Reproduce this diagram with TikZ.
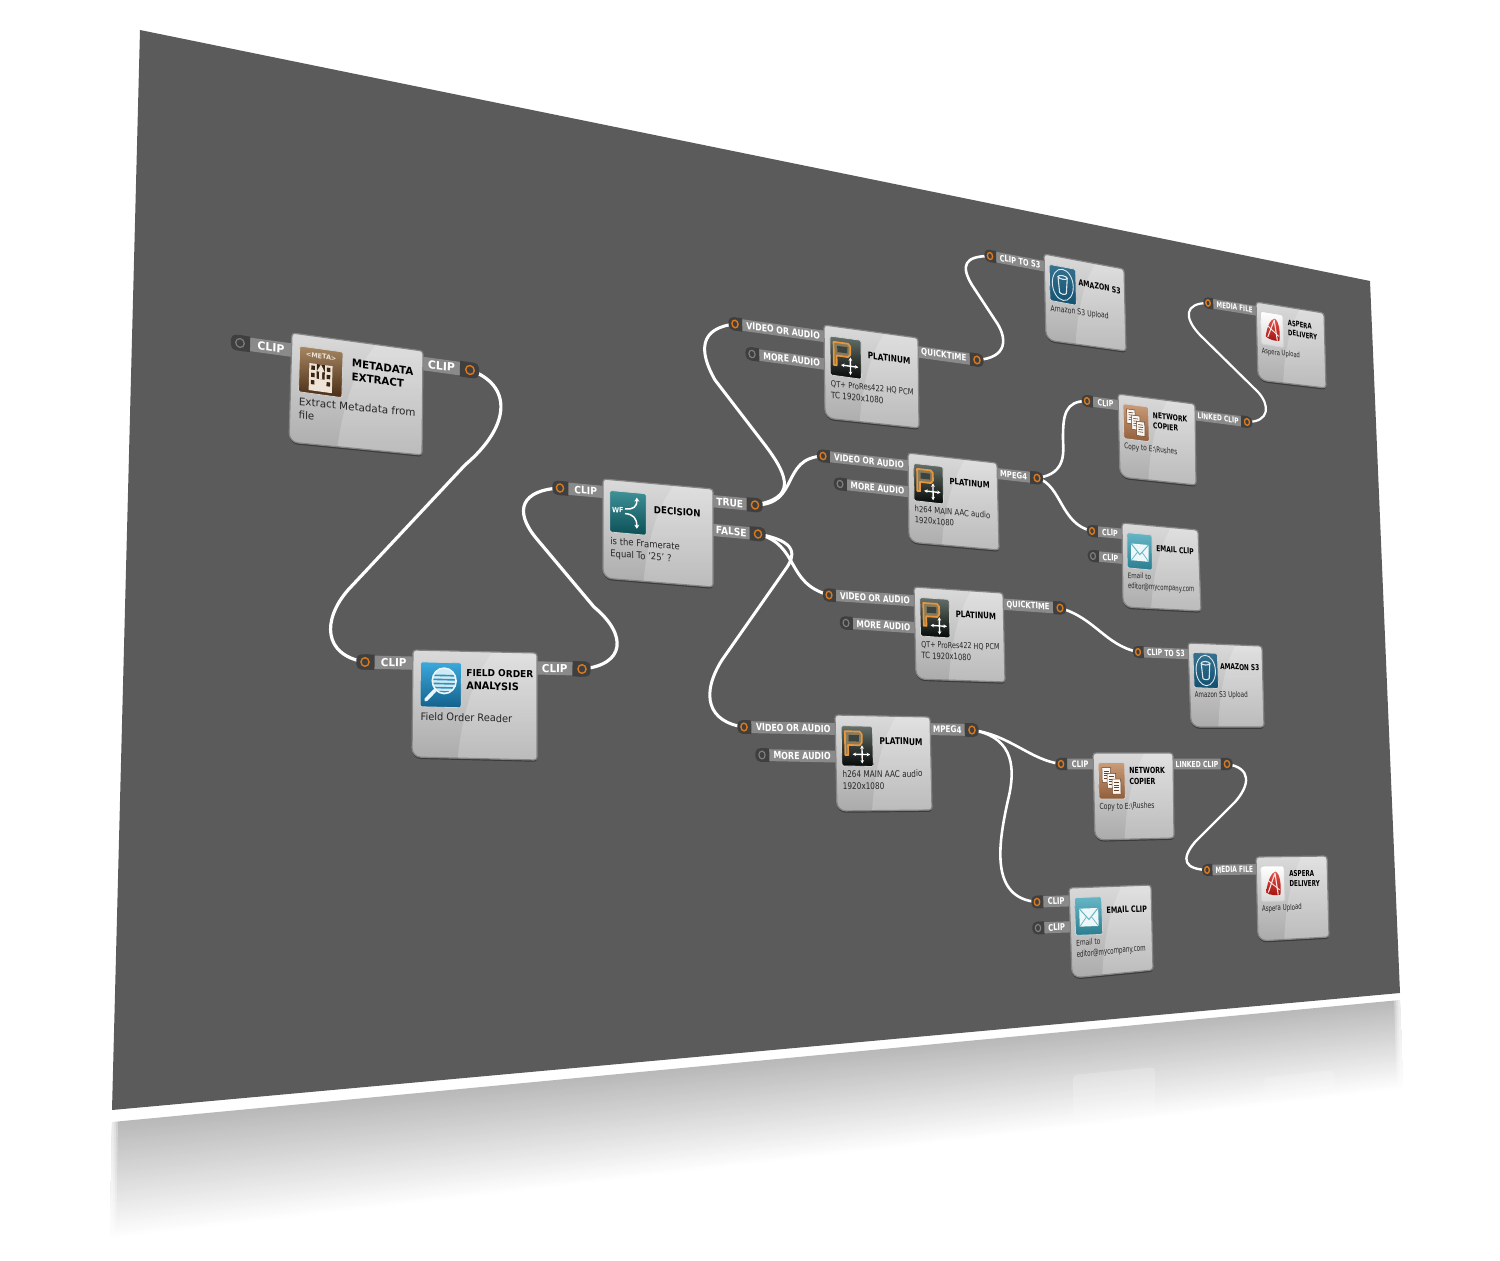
\documentclass[tikz,border=0pt]{standalone}
\usepackage{graphicx}
\usepackage{fontspec}
\setmainfont{DejaVu Sans}
\usetikzlibrary{arrows.meta}
\pgfdeclarelayer{back}
\pgfdeclarelayer{wires}
\pgfdeclarelayer{ports}
\pgfsetlayers{back,wires,ports,main}
\definecolor{plane}{HTML}{5A5B5A}
\definecolor{stripc}{HTML}{8A8A8A}
\definecolor{pillc}{HTML}{3F3F3F}
\definecolor{ringon}{HTML}{D9791E}
\definecolor{ringoff}{HTML}{7E7E7E}
\definecolor{pantop}{HTML}{DADADA}
\definecolor{panbot}{HTML}{ABABAB}
\definecolor{panedge}{HTML}{858585}
\definecolor{metatop}{HTML}{A68763}
\definecolor{metabot}{HTML}{4A2C16}
\definecolor{metaw}{HTML}{EDE3D6}
\definecolor{plattop}{HTML}{66716B}
\definecolor{platbot}{HTML}{050907}
\definecolor{plator}{HTML}{E8963C}
\definecolor{wftop}{HTML}{3F9198}
\definecolor{wfbot}{HTML}{0C4F56}
\definecolor{fotop}{HTML}{3BA9DC}
\definecolor{fobot}{HTML}{14618C}
\definecolor{sthree}{HTML}{14597C}
\definecolor{aspr}{HTML}{E2524A}
\definecolor{aspb}{HTML}{A3140F}
\definecolor{nettop}{HTML}{CB9C78}
\definecolor{netbot}{HTML}{915E3A}
\definecolor{mailtop}{HTML}{66B6C6}
\definecolor{mailbot}{HTML}{2B7D8F}
\tikzset{
  wftitle/.style={anchor=west,align=left,inner sep=0pt,text=black,transform shape,
    font=\fontsize{10.2}{13}\selectfont\bfseries},
  wfdesc/.style={anchor=north west,align=left,inner sep=0pt,text=black!85,transform shape,
    font=\fontsize{10}{13}\selectfont},
  wflabel/.style={inner sep=0pt,text=white,font=\fontsize{10.8}{13}\selectfont\bfseries},
  wfon/.style={circle,draw=ringon,line width=1.4pt,inner sep=0pt,minimum size=8.5pt},
  wfoff/.style={circle,draw=ringoff,line width=1.2pt,inner sep=0pt,minimum size=8.5pt},
  wfstrip/.style={fill=stripc},
  wfpill/.style={fill=pillc},
  wfwire/.style={draw=white,line cap=round,line join=round,line width=#1},
  wfwire/.default=2.4pt
}
\newcommand\wfTX{60}
% frame of one panel: name, TL, TR, BR, BL (pixels)
\newcommand\wfframe[9]{%
  \def\wfN{#1}\def\wfX{#2}\def\wfY{#3}\def\wfXR{#4}%
  \pgfmathsetmacro\wfA{(#4-#2)/130}%
  \pgfmathsetmacro\wfB{-(#5-#3)/130}%
  \pgfmathsetmacro\wfC{-(#8-#2)/105}%
  \pgfmathsetmacro\wfD{(#9-#3)/105}%
  \pgfmathsetmacro\wfAb{(#6-#8)/130}%
  \pgfmathsetmacro\wfBb{-(#7-#9)/130}%
  \coordinate (#1-tl) at (#2,#3);\coordinate (#1-tr) at (#4,#5);
  \coordinate (#1-br) at (#6,#7);\coordinate (#1-bl) at (#8,#9);}
\newcommand\wfshape{(\wfN-tl) [rounded corners=3pt] -- (\wfN-tr) -- (\wfN-br) [rounded corners=9pt] -- (\wfN-bl) [rounded corners=3pt] -- cycle}
% icon macro, title, description
\newcommand\wfbody[3]{%
  \fill[black,opacity=.35] ([yshift=-1.8pt]\wfN-tl) [rounded corners=3pt] -- ([yshift=-1.8pt]\wfN-tr) -- ([yshift=-1.8pt]\wfN-br) [rounded corners=9pt] -- ([yshift=-1.8pt]\wfN-bl) [rounded corners=3pt] -- cycle;
  \shade[top color=pantop,bottom color=panbot] \wfshape;
  \begin{scope}
    \clip \wfshape;
    \begin{scope}[cm={\wfA,\wfB,\wfC,\wfD,(\wfX,\wfY)}]
      \fill[white,opacity=.2] (88,-5) .. controls (70,15) and (52,50) .. (47,115) -- (140,115) -- (140,-5) -- cycle;
    \end{scope}
  \end{scope}
  \draw[panedge,line width=1.2pt] \wfshape;
  \begin{scope}[cm={\wfA,\wfB,\wfC,\wfD,(\wfX,\wfY)}]
    \begin{scope}[shift={(8,11.5)}]#1\end{scope}
    \node[wftitle] (\wfN-title) at (\wfTX,27.5) {#2};
  \end{scope}
  \begin{scope}[cm={\wfAb,\wfBb,\wfC,\wfD,(\wfX,\wfY)}]
    \node[wfdesc] (\wfN-desc) at (8.5,60.5) {\rule{0pt}{8pt}#3};
  \end{scope}}
% ring name, x, y, sign, length, label, ring style
\newcommand\wfport[7]{%
  \begin{pgfonlayer}{ports}
  \begin{scope}[cm={\wfA,\wfB,\wfC,\wfD,(#2,#3)}]
    \fill[wfstrip] ({#4*9},-6.5) rectangle ({#4*(#5+3)},6.5);
    \fill[wfpill,rounded corners=5pt] ({#4*(-9)},-7.5) rectangle ({#4*8},7.5);
    \fill[wfpill] (0,-7.5) rectangle ({#4*10},7.5);
    \node[#7,transform shape] (#1) at (0,0) {};
    \pgfmathsetmacro\wfM{#4*(10+#5)/2}
    \node[wflabel,transform shape] (#1-label) at (\wfM,0) {#6};
  \end{scope}
  \end{pgfonlayer}}
\newcommand\wfin[5]{\pgfmathsetmacro\wfL{(\wfX-#2)/\wfA}\wfport{#1}{#2}{#3}{1}{\wfL}{#4}{#5}}
\newcommand\wfout[4]{\pgfmathsetmacro\wfL{(#2-\wfXR)/\wfA}\wfport{#1}{#2}{#3}{-1}{\wfL}{#4}{wfon}}
% icons, local box 43 x 44
\newcommand\iconbox[2]{\shade[top color=#1,bottom color=#2,draw=white!82!black,line width=.8pt,rounded corners=1.5pt] (0,0) rectangle (43,44);}
\newcommand\iconmeta{\iconbox{metatop}{metabot}
  \node[inner sep=0pt,text=metaw,transform shape,font=\fontsize{6.4}{7}\selectfont\bfseries] (\wfN-icon) at (21.5,7) {<META>};
  \fill[metaw] (10,15) rectangle (33,41);
  \foreach \q in {17,24,31}{\fill[metabot!80!black] (12,\q) rectangle (15.5,{\q+4});\fill[metabot!80!black] (27.5,\q) rectangle (31,{\q+4});}
  \fill[metabot!80!black] (17.5,15) rectangle (25.5,29);
  \fill[metaw] (20,21) rectangle (23,29);
  \fill[metaw] (17.5,22) -- (21.5,15) -- (25.5,22) -- cycle;}
\newcommand\iconplat{\iconbox{plattop}{platbot}
  \draw[plator,line width=1.7pt,line join=round,fill=plator!25!plattop] (5,32) -- (5,6) -- (25,6) -- (28,9) -- (28,18) -- (25,21) -- (9,21) -- (9,32) -- cycle;
  \fill[plattop!60!black] (10,10) rectangle (24,17);
  \draw[white,line width=1.4pt,{Stealth[length=3.5pt,width=3.6pt]}-{Stealth[length=3.5pt,width=3.6pt]}] (15,31) -- (39,31);
  \draw[white,line width=1.4pt,{Stealth[length=3.5pt,width=3.6pt]}-{Stealth[length=3.5pt,width=3.6pt]}] (28,21) -- (28,41);}
\newcommand\iconwf{\iconbox{wftop}{wfbot}
  \node[inner sep=0pt,text=white,transform shape,font=\fontsize{7.6}{8}\selectfont\bfseries] (\wfN-icon) at (9.5,20) {WF};
  \draw[white,line width=1.5pt,-{Stealth[length=4pt,width=5pt]}] (18,18) .. controls (28,18) and (32,15) .. (32,5);
  \draw[white,line width=1.5pt,-{Stealth[length=4pt,width=5pt]}] (18,23) .. controls (28,23) and (32,27) .. (32,38);}
\newcommand\iconfield{\iconbox{fotop}{fobot}
  \begin{scope}
    \clip (25,18) circle (12.5);
    \fill[white!75!fotop] (10,4) rectangle (40,32);
    \foreach \q in {12,16,20,24,28}{\fill[fotop!85!black] (10,\q) rectangle (40,{\q+1.6});}
  \end{scope}
  \draw[white!90!fotop,line width=1.6pt] (25,18) circle (12.5);
  \draw[white!90!fotop,line width=3.6pt,line cap=round] (15.5,27.5) -- (6,37);}
\newcommand\iconsthree{\iconbox{sthree!85!white}{sthree!90!black}
  \draw[white!85!sthree,line width=.9pt] (21.5,22) ellipse (17 and 19);
  \draw[white!85!sthree,line width=1.1pt,line join=round] (14,13) -- (16,32) .. controls (18,34) and (25,34) .. (27,32) -- (29,13);
  \draw[white!85!sthree,line width=1.1pt] (21.5,13) ellipse (7.5 and 2.2);}
\newcommand\iconasp{\iconbox{white}{white!85!black}
  \shade[top color=aspr,bottom color=aspb] (9,33) .. controls (12,18) and (20,8) .. (27,7) .. controls (36,10) and (37,25) .. (35,36) .. controls (28,37) and (16,37) .. (9,33) -- cycle;
  \draw[white!85!aspr,line width=1.1pt,line join=round] (13,33) -- (26,9) -- (31,36);
  \draw[white!85!aspr,line width=.9pt] (13,18) -- (34,30);}
\newcommand\wfpage[2]{\fill[white!92!nettop,draw=netbot!70!black,line width=.5pt] (#1,#2) rectangle ({#1+14},{#2+18});
  \foreach \q in {4,7,10,13}{\draw[netbot!70!black,line width=.6pt] ({#1+3},{#2+\q}) -- ({#1+11},{#2+\q});}}
\newcommand\iconnet{\iconbox{nettop}{netbot}\wfpage{6}{6}\wfpage{14}{13}\wfpage{22}{20}}
\newcommand\iconmail{\iconbox{mailtop}{mailbot}
  \fill[white!88!mailtop] (7,13) rectangle (37,34);
  \draw[mailtop,line width=1pt] (7,13) -- (22,26) -- (37,13);
  \draw[mailtop,line width=.7pt] (7,34) -- (18,23);
  \draw[mailtop,line width=.7pt] (37,34) -- (26,23);}
\newcommand\dsmall{\fontsize{9.4}{13}\selectfont}
\newcommand\lsmall{\fontsize{10}{13}\selectfont}
\newcommand\mailaddr{\scalebox{.89}[1]{editor@mycompany.com}}
\begin{document}
\begin{tikzpicture}[x=1pt,y=-1pt]
\useasboundingbox (0,0) rectangle (1500,1261);
\begin{pgfonlayer}{back}
  \fill[white] (0,0) rectangle (1500,1261);
  \fill[plane] (140,30) -- (1370,281) -- (1400,993) -- (112,1110) -- cycle;
  % reflection: bands between the top edge and the line where it has faded out
  \foreach \i in {0,...,59}{
    \pgfmathsetmacro\tt{\i/60}
    \pgfmathsetmacro\cc{28*(1-(\i+1)/60)}
    \pgfmathsetmacro\xl{112-2*\tt}
    \pgfmathsetmacro\yl{1122+118*\tt}
    \pgfmathsetmacro\xr{1400+3*\tt}
    \pgfmathsetmacro\yr{1000+90*\tt}
    \fill[black!\cc] (\xl,\yl) -- (\xr,\yr) -- (1403,1092) -- (110,1242) -- cycle;
  }
  \fill[white] (100,1239.5) -- (1410,1089) -- (1410,1110) -- (100,1260) -- cycle;
  \fill[white,opacity=.2,rounded corners=4pt] (1073,1075) -- (1155,1067) -- (1155,1112) -- (1073,1120) -- cycle;
  \fill[white,opacity=.18,rounded corners=4pt] (1263,1078) -- (1333,1070) -- (1335,1088) -- (1265,1096) -- cycle;
  \fill[white,opacity=.35] (111,1121) -- (114,1121) -- (112,1245) -- (109,1245) -- cycle;
  \fill[white,opacity=.35] (111,1121) -- (116,1121) -- (114,1245) -- (109,1245) -- cycle;
  \fill[white,opacity=.3] (111,1121) -- (118,1121) -- (116,1245) -- (109,1245) -- cycle;
  \fill[white,opacity=.35] (1398,998) -- (1402,998) -- (1405,1095) -- (1401,1095) -- cycle;
  \fill[white,opacity=.35] (1396,998) -- (1402,998) -- (1405,1095) -- (1399,1095) -- cycle;
  \fill[white,opacity=.3] (1394,998) -- (1402,998) -- (1405,1095) -- (1397,1095) -- cycle;
\end{pgfonlayer}

% METADATA EXTRACT
\wfframe{md}{292}{333}{423}{351}{422}{455}{289}{442}
\wfin{md-i}{240}{343}{CLIP}{wfoff}
\wfout{md-o}{470}{370}{CLIP}
\wfbody{\iconmeta}{METADATA\\EXTRACT}{\fontsize{10.1}{13}\selectfont Extract Metadata from\\file}

% FIELD ORDER ANALYSIS
\wfframe{fo}{413}{650}{537}{653}{537}{760}{412}{757}
\wfin{fo-i}{365}{662}{CLIP}{wfon}
\wfout{fo-o}{582}{669}{CLIP}
\renewcommand\wfTX{56}
\wfbody{\iconfield}{\fontsize{9.4}{13}\selectfont FIELD ORDER\\ANALYSIS}{\fontsize{10.2}{13}\selectfont Field Order Reader}
\renewcommand\wfTX{60}

% DECISION
\wfframe{de}{603}{479}{713}{489}{713}{587}{603}{578}
\wfin{de-i}{560}{488}{CLIP}{wfon}
\wfout{de-t}{755}{505}{TRUE}
\wfout{de-f}{758}{534}{FALSE}
\wfbody{\iconwf}{DECISION}{is the Framerate\\Equal To \char39 25\char39\ ?}

% PLATINUM 1
\wfframe{pa}{824}{325}{918}{338}{919}{428}{825}{418}
\wfin{pa-v}{735}{324}{VIDEO OR AUDIO}{wfon}
\wfin{pa-m}{752}{354}{MORE AUDIO}{wfoff}
\wfout{pa-o}{977}{360}{\lsmall QUICKTIME}
\wfbody{\iconplat}{PLATINUM}{\dsmall QT+ ProRes422 HQ PCM\\TC 1920x1080}

% PLATINUM 2
\wfframe{pb}{908}{453}{997}{463}{999}{550}{909}{542}
\wfin{pb-v}{823}{456}{VIDEO OR AUDIO}{wfon}
\wfin{pb-m}{840}{484}{MORE AUDIO}{wfoff}
\wfout{pb-o}{1037}{478}{\lsmall MPEG4}
\wfbody{\iconplat}{PLATINUM}{h264 MAIN AAC audio\\1920x1080}

% PLATINUM 3
\wfframe{pc}{914}{587}{1003}{593}{1005}{682}{916}{679}
\wfin{pc-v}{829}{595}{VIDEO OR AUDIO}{wfon}
\wfin{pc-m}{846}{623}{MORE AUDIO}{wfoff}
\wfout{pc-o}{1060}{608}{\lsmall QUICKTIME}
\wfbody{\iconplat}{PLATINUM}{\dsmall QT+ ProRes422 HQ PCM\\TC 1920x1080}

% PLATINUM 4
\wfframe{pd}{835}{715}{930}{717}{932}{810}{837}{811}
\wfin{pd-v}{744}{727}{VIDEO OR AUDIO}{wfon}
\wfin{pd-m}{762}{755}{MORE AUDIO}{wfoff}
\wfout{pd-o}{972}{730}{\lsmall MPEG4}
\wfbody{\iconplat}{PLATINUM}{h264 MAIN AAC audio\\1920x1080}

\renewcommand\wfTX{55}
% AMAZON S3 1
\wfframe{sa}{1044}{254}{1124}{269}{1126}{351}{1046}{340}
\wfin{sa-i}{990}{256}{CLIP TO S3}{wfon}
\wfbody{\iconsthree}{AMAZON S3}{Amazon S3 Upload}

% AMAZON S3 2
\wfframe{sb}{1188}{643}{1262}{646}{1264}{727}{1191}{727}
\wfin{sb-i}{1138}{652}{CLIP TO S3}{wfon}
\wfbody{\iconsthree}{AMAZON S3}{Amazon S3 Upload}
\renewcommand\wfTX{60}

% ASPERA 1
\wfframe{aa}{1256}{302}{1324}{313}{1326}{388}{1258}{380}
\wfin{aa-i}{1208}{303}{MEDIA FILE}{wfon}
\wfbody{\iconasp}{ASPERA\\DELIVERY}{Aspera Upload}

% ASPERA 2
\wfframe{ab}{1256}{857}{1327}{856}{1329}{937}{1258}{941}
\wfin{ab-i}{1207}{870}{MEDIA FILE}{wfon}
\wfbody{\iconasp}{ASPERA\\DELIVERY}{Aspera Upload}

\renewcommand\wfTX{58}
% NETWORK COPIER 1
\wfframe{na}{1118}{394}{1195}{404}{1196}{485}{1120}{477}
\wfin{na-i}{1087}{401}{CLIP}{wfon}
\wfout{na-o}{1247}{422}{\lsmall LINKED CLIP}
\wfbody{\iconnet}{NETWORK\\COPIER}{Copy to E:\textbackslash Rushes}

% NETWORK COPIER 2
\wfframe{nb}{1093}{753}{1173}{753}{1174}{838}{1095}{840}
\wfin{nb-i}{1061}{764}{CLIP}{wfon}
\wfout{nb-o}{1227}{764}{\lsmall LINKED CLIP}
\wfbody{\iconnet}{NETWORK\\COPIER}{Copy to E:\textbackslash Rushes}

% EMAIL 1
\wfframe{ea}{1122}{523}{1198}{530}{1201}{611}{1123}{607}
\wfin{ea-a}{1092}{531}{CLIP}{wfon}
\wfin{ea-b}{1093}{556}{CLIP}{wfoff}
\wfbody{\iconmail}{EMAIL CLIP}{\dsmall Email to\\\mailaddr}

% EMAIL 2
\wfframe{eb}{1069}{888}{1151}{885}{1153}{970}{1072}{978}
\wfin{eb-a}{1037}{902}{CLIP}{wfon}
\wfin{eb-b}{1038}{928}{CLIP}{wfoff}
\wfbody{\iconmail}{EMAIL CLIP}{\dsmall Email to\\\mailaddr}
\renewcommand\wfTX{60}

% connectors
\begin{pgfonlayer}{wires}
\draw[wfwire=3.2pt] (md-o.center) .. controls (512,385) and (512,425) .. (465,465) -- (348,590) .. controls (322,620) and (323,655) .. (fo-i.center);
\draw[wfwire=3.2pt] (fo-o.center) .. controls (625,665) and (628,635) .. (594,607) -- (536,538) .. controls (513,510) and (522,490) .. (de-i.center);
\draw[wfwire=3pt] (de-t.center) .. controls (795,498) and (790,478) .. (765,445) -- (715,380) .. controls (698,350) and (700,328) .. (pa-v.center);
\draw[wfwire=3pt] (de-t.center) .. controls (800,505) and (780,458) .. (pb-v.center);
\draw[wfwire=3pt] (de-f.center) .. controls (800,545) and (785,583) .. (pc-v.center);
\draw[wfwire=3pt] (de-f.center) .. controls (790,540) and (800,550) .. (785,570) -- (722,660) .. controls (700,695) and (708,722) .. (pd-v.center);
\draw[wfwire=2.6pt] (pa-o.center) .. controls (1008,358) and (1008,338) .. (995,320) -- (972,285) .. controls (960,265) and (965,256) .. (sa-i.center);
\draw[wfwire=2.6pt] (pb-o.center) .. controls (1068,474) and (1063,450) .. (1063,438) .. controls (1063,415) and (1065,401) .. (na-i.center);
\draw[wfwire=2.6pt] (pb-o.center) .. controls (1062,485) and (1060,524) .. (ea-a.center);
\draw[wfwire=2.2pt] (na-o.center) .. controls (1270,422) and (1270,405) .. (1258,392) -- (1200,335) .. controls (1183,317) and (1185,303) .. (aa-i.center);
\draw[wfwire=2.6pt] (pc-o.center) .. controls (1095,618) and (1105,645) .. (sb-i.center);
\draw[wfwire=2.6pt] (pd-o.center) .. controls (1010,735) and (1030,760) .. (nb-i.center);
\draw[wfwire=2.6pt] (pd-o.center) .. controls (1008,736) and (1018,760) .. (1008,800) .. controls (998,845) and (990,898) .. (eb-a.center);
\draw[wfwire=2.4pt] (nb-o.center) .. controls (1252,768) and (1250,785) .. (1235,802) -- (1195,842) .. controls (1180,860) and (1185,869) .. (ab-i.center);
\end{pgfonlayer}
\end{tikzpicture}
\end{document}
